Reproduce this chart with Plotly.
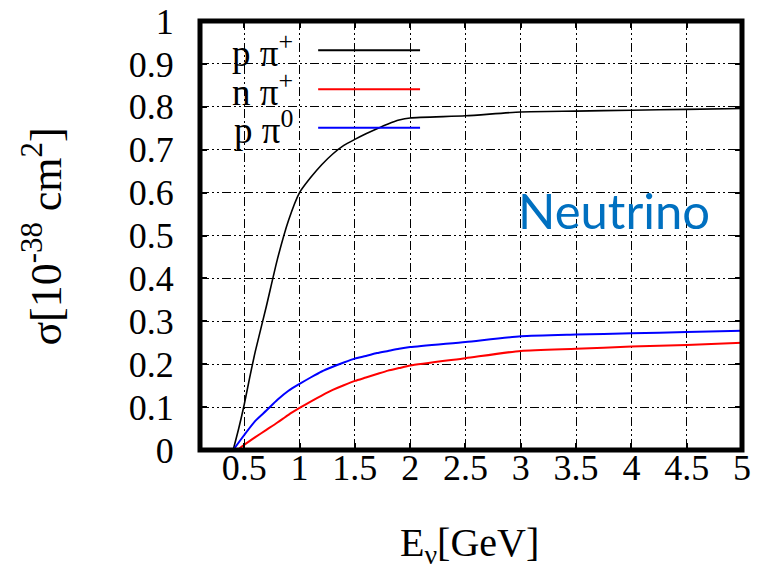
import plotly.graph_objects as go

# ---- data ----
x_ppip = [0.40, 0.45, 0.50, 0.55, 0.60, 0.70, 0.80, 0.90, 1.00, 1.10, 1.20, 1.30, 1.40, 1.50,
          1.60, 1.70, 1.80, 1.90, 2.00, 2.50, 3.00, 3.50, 4.00, 4.50, 5.00]
y_ppip = [0.000, 0.050, 0.106, 0.170, 0.230, 0.335, 0.445, 0.535, 0.600, 0.635, 0.665, 0.690,
          0.710, 0.724, 0.737, 0.749, 0.760, 0.769, 0.774, 0.779, 0.788, 0.790, 0.792, 0.794, 0.796]

x_npip = [0.44, 0.50, 0.60, 0.70, 0.80, 0.90, 1.00, 1.10, 1.20, 1.30, 1.40, 1.50, 1.60, 1.70,
          1.80, 1.90, 2.00, 2.50, 3.00, 3.50, 4.00, 4.50, 5.00]
y_npip = [0.000, 0.012, 0.030, 0.047, 0.064, 0.082, 0.098, 0.113, 0.127, 0.140, 0.151, 0.161,
          0.169, 0.177, 0.185, 0.191, 0.197, 0.214, 0.231, 0.236, 0.241, 0.245, 0.250]

x_ppi0 = [0.40, 0.50, 0.60, 0.70, 0.80, 0.90, 1.00, 1.10, 1.20, 1.30, 1.40, 1.50, 1.60, 1.70,
          1.80, 1.90, 2.00, 2.50, 3.00, 3.50, 4.00, 4.50, 5.00]
y_ppi0 = [0.000, 0.035, 0.068, 0.092, 0.117, 0.138, 0.154, 0.169, 0.183, 0.194, 0.204, 0.213,
          0.219, 0.226, 0.231, 0.236, 0.240, 0.252, 0.265, 0.269, 0.272, 0.275, 0.278]

series_names = ["p π<sup>+</sup>", "n π<sup>+</sup>", "p π<sup>0</sup>"]
series_colors = ["#000000", "#ff0000", "#0000ff"]

x_tickvals = [0.5, 1, 1.5, 2, 2.5, 3, 3.5, 4, 4.5, 5]
x_ticktext = ["0.5", "1", "1.5", "2", "2.5", "3", "3.5", "4", "4.5", "5"]
y_tickvals = [0, 0.1, 0.2, 0.3, 0.4, 0.5, 0.6, 0.7, 0.8, 0.9, 1.0]
y_ticktext = ["0", "0.1", "0.2", "0.3", "0.4", "0.5", "0.6", "0.7", "0.8", "0.9", "1"]

SERIF = "Liberation Serif"
TICKFONT = 36

fig = go.Figure()
for xs, ys, name, col, w in [(x_ppip, y_ppip, series_names[0], series_colors[0], 1.6),
                             (x_npip, y_npip, series_names[1], series_colors[1], 2.0),
                             (x_ppi0, y_ppi0, series_names[2], series_colors[2], 2.0)]:
    fig.add_trace(go.Scatter(x=xs, y=ys, mode="lines", name=name,
                             line=dict(color=col, width=w, shape="spline", smoothing=0.6),
                             showlegend=False))

griddash = "9px,3px,2px,3px,2px,3px"
common = dict(ticks="inside", ticklen=7, tickwidth=1.5, tickcolor="black",
              showline=True, linecolor="black", linewidth=1, mirror="ticks",
              showgrid=True, gridcolor="black", gridwidth=1.4, griddash=griddash,
              zeroline=False, automargin=False, ticklabeloverflow="allow",
              tickfont=dict(family=SERIF, size=TICKFONT, color="black"))
fig.update_xaxes(range=[0.1, 5.0], tickvals=x_tickvals, ticktext=x_ticktext,
                 ticklabelstandoff=-14, **common)
fig.update_yaxes(range=[0, 1.0], tickvals=y_tickvals, ticktext=y_ticktext,
                 ticklabelstandoff=18, **common)

shapes = [
    dict(type="rect", xref="paper", yref="paper", x0=0, x1=0.43, y0=0.713, y1=1,
         fillcolor="white", line=dict(width=0), layer="between"),
    dict(type="rect", xref="paper", yref="paper", x0=0, x1=1, y0=0, y1=1,
         line=dict(color="black", width=5), layer="above"),
]
key_y = [0.932, 0.841, 0.751]
annotations = []
for ky, name, col in zip(key_y, series_names, series_colors):
    shapes.append(dict(type="line", xref="paper", yref="paper", x0=0.218, x1=0.406,
                       y0=ky, y1=ky, line=dict(color=col, width=2), layer="above"))
    annotations.append(dict(xref="paper", yref="paper", x=0.176, y=ky, text=name,
                            showarrow=False, xanchor="right", yanchor="middle",
                            font=dict(family=SERIF, size=37, color="black")))

annotations += [
    dict(xref="paper", yref="paper", x=0.763, y=0.56, text="Neutrino", showarrow=False,
         xanchor="center", yanchor="middle",
         font=dict(family="Lato", size=49, color="#0070C0")),
    dict(xref="paper", yref="paper", x=0.498, y=-0.222, text="E<sub>ν</sub>[GeV]",
         showarrow=False, xanchor="center", yanchor="middle",
         font=dict(family=SERIF, size=40, color="black")),
    dict(xref="paper", yref="paper", x=-0.29, y=0.497,
         text="σ[10<sup>-38</sup> cm<sup>2</sup>]", textangle=-90, showarrow=False,
         xanchor="center", yanchor="middle",
         font=dict(family=SERIF, size=44, color="black")),
]

fig.update_layout(width=760, height=569, margin=dict(l=200, r=18, t=21, b=119),
                  plot_bgcolor="white", paper_bgcolor="white",
                  shapes=shapes, annotations=annotations, showlegend=False)

# remove the default 8px page margin so the figure sits at the window's corner
fig.write_html("out.html", config={"displayModeBar": False},
               post_script="document.body.style.margin='0';")
